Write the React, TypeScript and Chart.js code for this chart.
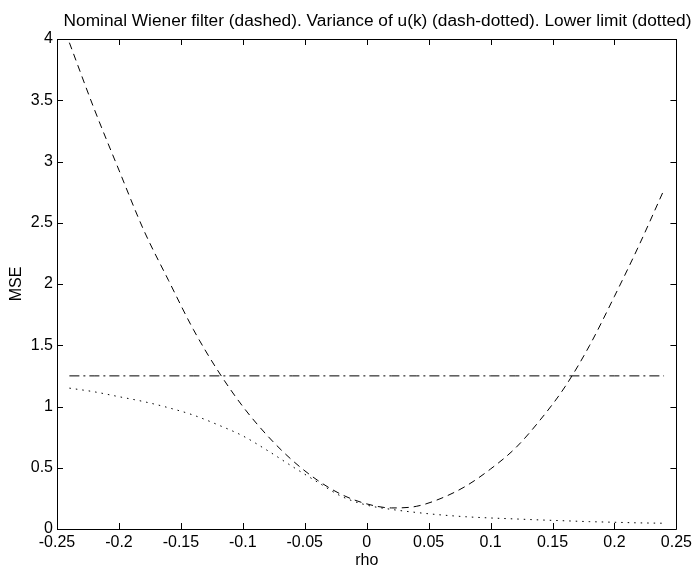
import { useEffect, useRef } from "react";
import { Chart, registerables } from "chart.js";

Chart.register(...registerables);

const FONT = "'Liberation Sans', Arial, Helvetica, sans-serif";

const titleText =
  "Nominal Wiener filter (dashed). Variance of u(k) (dash-dotted). Lower limit (dotted)";
const xLabel = "rho";
const yLabel = "MSE";

const rho = [
  -0.24, -0.22, -0.2, -0.18, -0.16, -0.14, -0.12, -0.1, -0.08, -0.06, -0.04, -0.02, 0,
  0.02, 0.04, 0.06, 0.08, 0.1, 0.12, 0.14, 0.16, 0.18, 0.2, 0.22, 0.24,
];
const wienerMSE = [
  3.97, 3.43, 2.93, 2.44, 2.03, 1.63, 1.29, 1.0, 0.76, 0.56, 0.4, 0.28, 0.205,
  0.172, 0.185, 0.25, 0.35, 0.49, 0.66, 0.89, 1.16, 1.5, 1.9, 2.32, 2.77,
];
const varianceU = [
  1.25, 1.25, 1.25, 1.25, 1.25, 1.25, 1.25, 1.25, 1.25, 1.25, 1.25, 1.25, 1.25,
  1.25, 1.25, 1.25, 1.25, 1.25, 1.25, 1.25, 1.25, 1.25, 1.25, 1.25, 1.25,
];
const lowerLimit = [
  1.15, 1.12, 1.08, 1.04, 0.99, 0.93, 0.85, 0.76, 0.64, 0.51, 0.385, 0.265, 0.195,
  0.16, 0.135, 0.115, 0.1, 0.09, 0.082, 0.074, 0.067, 0.06, 0.055, 0.05, 0.047,
];

const xTicks = [-0.25, -0.2, -0.15, -0.1, -0.05, 0, 0.05, 0.1, 0.15, 0.2, 0.25];
const xTickLabels = ["-0.25", "-0.2", "-0.15", "-0.1", "-0.05", "0", "0.05", "0.1", "0.15", "0.2", "0.25"];
const yTicks = [0, 0.5, 1, 1.5, 2, 2.5, 3, 3.5, 4];
const yTickLabels = ["0", "0.5", "1", "1.5", "2", "2.5", "3", "3.5", "4"];

const toPoints = (ys: number[]) => rho.map((x, i) => ({ x, y: ys[i] }));

const matlabBox = {
  id: "matlabBox",
  afterDraw(chart: any) {
    const { ctx, chartArea } = chart;
    const { left, right, top, bottom } = chartArea;
    const xs = chart.scales.x;
    const ys = chart.scales.y;
    const tl = 6;
    ctx.save();
    ctx.strokeStyle = "#000";
    ctx.lineWidth = 1;
    ctx.setLineDash([]);
    ctx.beginPath();
    ctx.rect(Math.round(left) + 0.5, Math.round(top) + 0.5, Math.round(right - left), Math.round(bottom - top));
    ctx.stroke();
    ctx.beginPath();
    xTicks.forEach((v) => {
      const px = Math.round(xs.getPixelForValue(v)) + 0.5;
      ctx.moveTo(px, bottom);
      ctx.lineTo(px, bottom - tl);
      ctx.moveTo(px, top);
      ctx.lineTo(px, top + tl);
    });
    yTicks.forEach((v) => {
      const py = Math.round(ys.getPixelForValue(v)) + 0.5;
      ctx.moveTo(left, py);
      ctx.lineTo(left + tl, py);
      ctx.moveTo(right, py);
      ctx.lineTo(right - tl, py);
    });
    ctx.stroke();
    ctx.fillStyle = "#000";
    ctx.font = `17.3px ${FONT}`;
    ctx.textAlign = "center";
    ctx.textBaseline = "alphabetic";
    ctx.fillText(titleText, 377.5, 26);
    ctx.restore();
  },
};

export default function App() {
  const ref = useRef<HTMLCanvasElement | null>(null);
  useEffect(() => {
    if (!ref.current) return;
    const chart = new Chart(ref.current, {
      type: "line",
      data: {
        datasets: [
          {
            label: "Nominal Wiener filter",
            data: toPoints(wienerMSE),
            borderColor: "#000",
            borderWidth: 1,
            borderDash: [7, 5],
            pointRadius: 0,
            cubicInterpolationMode: "monotone",
            fill: false,
          },
          {
            label: "Variance of u(k)",
            data: toPoints(varianceU),
            borderColor: "#000",
            borderWidth: 1,
            borderDash: [10, 4, 2, 4],
            pointRadius: 0,
            fill: false,
          },
          {
            label: "Lower limit",
            data: toPoints(lowerLimit),
            borderColor: "#000",
            borderWidth: 1,
            borderDash: [1.5, 5],
            pointRadius: 0,
            cubicInterpolationMode: "monotone",
            fill: false,
          },
        ],
      },
      options: {
        animation: false,
        responsive: false,
        devicePixelRatio: 1,
        layout: { padding: { top: 39, right: 17, left: 0, bottom: 0 } },
        plugins: {
          legend: { display: false },
          title: { display: false },
          tooltip: { enabled: false },
        },
        scales: {
          x: {
            type: "linear",
            min: -0.25,
            max: 0.25,
            afterBuildTicks: (s: any) => {
              s.ticks = xTicks.map((v) => ({ value: v }));
            },
            afterFit: (s: any) => {
              s.height = 38;
            },
            grid: { display: false, drawTicks: false },
            border: { display: false },
            ticks: {
              color: "#000",
              font: { family: FONT, size: 16 },
              padding: 4,
              maxRotation: 0,
              autoSkip: false,
              callback: (_v: any, i: number) => xTickLabels[i],
            },
            title: {
              display: true,
              text: xLabel,
              color: "#000",
              font: { family: FONT, size: 16, lineHeight: 1.2 },
              padding: { top: 0, bottom: -3 },
            },
          },
          y: {
            type: "linear",
            min: 0,
            max: 4,
            afterBuildTicks: (s: any) => {
              s.ticks = yTicks.map((v) => ({ value: v }));
            },
            afterFit: (s: any) => {
              s.width = 57;
            },
            grid: { display: false, drawTicks: false },
            border: { display: false },
            ticks: {
              color: "#000",
              font: { family: FONT, size: 16 },
              padding: 4,
              autoSkip: false,
              callback: (_v: any, i: number) => yTickLabels[i],
            },
            title: {
              display: true,
              text: yLabel,
              color: "#000",
              font: { family: FONT, size: 16, lineHeight: 1.2 },
              padding: { top: 7.4, bottom: 0 },
            },
          },
        },
      },
      plugins: [matlabBox],
    });
    return () => chart.destroy();
  }, []);
  return (
    <div style={{ position: "fixed", left: 0, top: 0, width: 696, height: 567, background: "#fff" }}>
      <canvas ref={ref} width={696} height={567} style={{ display: "block", width: 696, height: 567 }} />
    </div>
  );
}
